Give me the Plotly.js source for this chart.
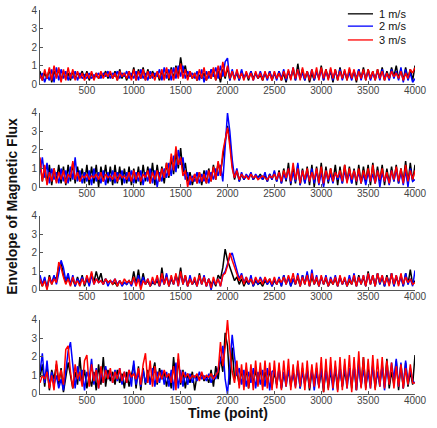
<!DOCTYPE html>
<html>
<head>
<meta charset="utf-8">
<script src="https://cdn.plot.ly/plotly-3.0.1.min.js"></script>
<style>html,body{margin:0;padding:0;background:#fff;}#chart{width:437px;height:428px;}</style>
</head>
<body>
<div id="chart"></div>
<script>
// Sample spacing of the signals (points)
const STEP = 25;
const seriesNames = ["1 m/s", "2 m/s", "3 m/s"];
const seriesColors = ["#000000", "#0000ff", "#ff0000"];
const xTickVals = [500, 1000, 1500, 2000, 2500, 3000, 3500, 4000];
const yTickVals = [0, 1, 2, 3, 4];

// Panel 1
const p1_1ms = [
0.7,0.2,0.6,0.3,0.8,0.1,0.7,0.4,0.8,0.2,0.7,0.3,0.6,0.2,0.7,0.3,0.6,0.4,0.7,0.3,
0.7,0.2,0.6,0.3,0.6,0.3,0.5,0.4,0.7,0.3,0.6,0.3,0.7,0.2,0.8,0.3,0.6,0.2,0.7,0.3,
0.9,0.2,0.8,0.3,0.9,0.2,0.8,0.3,0.7,0.4,0.6,0.2,0.7,0.3,0.8,0.2,0.9,0.3,1.0,0.4,
1.45,0.6,1.0,0.3,0.7,0.3,0.6,0.2,0.5,0.3,0.6,0.2,0.7,0.3,0.8,0.2,0.7,0.1,0.8,0.3,
0.9,0.2,0.7,0.3,0.6,0.2,0.7,0.3,0.6,0.2,0.7,0.3,0.6,0.3,0.5,0.2,0.6,0.3,0.7,0.2,
0.6,0.3,0.7,0.2,0.6,0.1,0.7,0.3,0.8,0.2,1.1,0.3,0.8,0.2,0.7,0.1,0.6,0.2,0.7,0.3,
1.0,0.2,0.8,0.3,0.7,0.1,0.8,0.2,0.9,0.3,0.7,0.2,0.8,0.3,0.7,0.1,0.8,0.3,0.9,0.2,
0.8,0.3,0.7,0.2,0.8,0.3,0.9,0.2,0.7,0.3,0.9,0.4,1.0,0.3,0.8,0.2,0.9,0.3,0.8,0.2,
1.0];
const p1_2ms = [
0.3,0.6,0.1,0.5,0.2,0.8,0.1,0.9,0.2,0.8,0.3,0.7,0.2,0.6,0.3,0.7,0.2,0.6,0.3,0.5,
0.3,0.6,0.3,0.5,0.4,0.6,0.3,0.6,0.4,0.7,0.3,0.6,0.4,0.7,0.3,0.6,0.4,0.7,0.3,0.6,
0.3,0.7,0.2,0.8,0.3,0.6,0.2,0.7,0.3,0.6,0.4,0.8,0.2,0.9,0.3,0.8,0.2,0.9,0.3,1.0,
0.4,1.0,0.3,0.7,0.4,0.6,0.3,0.7,0.2,0.8,0.1,0.7,0.3,0.8,0.4,0.9,0.3,1.0,0.4,1.2,
1.4,0.2,0.8,0.3,0.7,0.2,0.8,0.3,0.6,0.3,0.7,0.2,0.6,0.3,0.7,0.3,0.6,0.2,0.7,0.3,
0.6,0.2,0.7,0.3,0.8,0.2,0.7,0.3,0.9,0.2,0.8,0.3,0.6,0.2,0.7,0.3,0.8,0.2,0.7,0.3,
0.8,0.2,0.7,0.3,0.8,0.2,0.7,0.3,0.8,0.2,0.7,0.3,0.6,0.2,0.7,0.3,0.8,0.2,0.7,0.3,
0.7,0.2,0.6,0.3,0.7,0.2,0.8,0.3,0.6,0.2,0.8,0.3,0.7,0.2,0.9,0.1,0.8,0.2,0.6,0.1,
0.3];
const p1_3ms = [
0.5,0.2,0.8,0.3,0.9,0.2,1.0,0.3,0.9,0.1,0.8,0.2,0.9,0.3,0.8,0.2,0.7,0.3,0.6,0.2,
0.6,0.3,0.7,0.2,0.6,0.3,0.7,0.3,0.6,0.4,0.7,0.3,0.6,0.2,0.7,0.4,0.6,0.3,0.7,0.2,
0.8,0.2,0.7,0.3,0.8,0.2,0.7,0.3,0.6,0.2,0.7,0.3,0.8,0.2,0.9,0.3,0.8,0.2,0.9,0.3,
1.1,0.3,0.8,0.2,0.7,0.3,0.6,0.2,0.8,0.3,0.9,0.2,0.7,0.3,0.9,0.2,1.0,0.3,1.2,0.4,
1.0,0.3,0.7,0.2,0.8,0.3,0.6,0.2,0.7,0.3,0.6,0.2,0.7,0.3,0.6,0.2,0.7,0.3,0.6,0.2,
0.7,0.3,0.6,0.2,0.7,0.3,0.8,0.2,0.9,0.3,0.8,0.2,0.9,0.3,0.7,0.2,0.8,0.3,0.9,0.2,
0.9,0.3,0.8,0.2,0.9,0.3,0.8,0.2,0.7,0.3,0.8,0.2,0.9,0.3,0.8,0.2,0.7,0.3,0.8,0.2,
0.8,0.3,0.7,0.2,0.8,0.3,0.7,0.2,0.6,0.3,0.7,0.4,0.6,0.3,0.7,0.2,0.6,0.3,0.8,0.6,
0.9];

// Panel 2
const p2_1ms = [
1.3,0.3,1.1,0.2,1.2,0.1,1.0,0.3,1.2,0.2,1.1,0.1,1.2,0.3,1.3,0.2,1.1,0.3,1.0,0.2,
1.2,0.1,1.1,0.2,1.2,0.0,1.1,0.3,1.2,0.2,1.1,0.1,1.2,0.2,1.1,0.1,1.0,0.2,1.1,0.1,
1.0,0.2,1.1,0.1,1.2,0.3,1.1,0.2,1.3,0.1,1.2,0.3,1.1,0.2,1.3,0.5,1.6,0.7,1.9,1.0,
2.1,0.8,1.3,0.3,0.8,0.1,0.7,0.2,0.8,0.1,0.9,0.2,1.0,0.3,1.2,0.4,1.3,0.8,1.6,2.4,
3.3,2.5,1.2,0.4,0.9,0.3,0.7,0.4,0.6,0.5,0.7,0.4,0.6,0.5,0.7,0.4,0.6,0.3,0.7,0.4,
0.8,0.3,0.9,0.2,1.0,0.3,1.3,0.1,1.1,0.2,1.2,0.1,1.0,0.2,1.1,0.1,1.2,0.0,1.1,0.2,
1.3,0.1,1.1,0.2,1.0,0.3,1.2,0.1,1.1,0.2,1.2,0.3,1.1,0.2,1.0,0.1,1.2,0.2,1.1,0.3,
1.2,0.1,1.3,0.2,1.1,0.3,1.2,0.1,1.0,0.2,1.1,0.3,1.2,0.2,1.0,0.3,1.4,0.2,1.3,0.3,
1.2];
const p2_2ms = [
0.8,1.6,0.5,1.3,0.2,1.0,0.4,0.8,0.2,1.0,0.3,0.9,0.2,1.1,0.4,1.6,0.3,0.9,0.2,0.8,
0.3,0.9,0.1,1.0,0.3,0.8,0.2,0.9,0.1,0.8,0.3,0.9,0.2,0.8,0.4,0.9,0.2,0.8,0.3,0.9,
0.2,0.8,0.3,0.9,0.1,0.8,0.3,1.0,0.2,0.9,0.0,0.8,0.3,1.0,0.5,1.3,0.6,1.7,0.8,2.0,
1.2,1.6,0.4,0.8,0.1,0.6,0.3,0.8,0.2,0.7,0.3,0.9,0.2,0.8,0.4,1.0,0.6,1.2,0.3,2.0,
4.0,3.0,1.5,0.5,1.0,0.3,0.8,0.4,0.7,0.5,0.8,0.4,0.7,0.5,0.6,0.4,0.8,0.3,0.7,0.4,
0.9,0.3,0.8,0.2,0.7,0.4,1.0,0.2,0.8,0.3,1.3,0.1,0.9,0.2,0.8,0.3,1.0,0.2,0.9,0.1,
0.8,0.0,0.9,0.3,0.7,0.2,0.8,0.4,0.7,0.2,0.9,0.3,0.8,0.2,0.9,0.3,0.8,0.2,0.7,0.1,
0.8,0.3,0.7,0.2,0.9,0.0,0.8,0.3,0.7,0.1,0.9,0.3,1.0,0.2,0.8,0.1,0.9,0.0,1.0,0.3,
0.4];
const p2_3ms = [
1.6,0.3,1.2,0.1,0.8,0.3,1.0,0.2,0.8,0.4,0.9,0.2,0.7,0.5,1.4,0.4,0.8,0.3,0.6,0.5,
0.7,0.4,0.6,0.5,0.7,0.4,0.8,0.3,0.7,0.5,0.6,0.4,0.8,0.3,0.7,0.5,0.6,0.4,0.8,0.3,
0.9,0.4,0.8,0.3,0.7,0.5,0.9,0.2,0.8,0.4,0.9,0.3,1.0,0.5,1.3,0.6,1.8,0.9,2.2,1.2,
1.6,0.6,0.9,0.0,0.6,0.3,0.7,0.2,0.8,0.3,0.7,0.2,0.9,0.3,1.1,0.4,1.4,0.6,1.9,2.6,
3.2,2.2,1.0,0.5,0.9,0.4,0.7,0.5,0.6,0.4,0.7,0.5,0.6,0.4,0.5,0.6,0.5,0.4,0.6,0.5,
0.7,0.4,0.8,0.3,0.9,0.5,1.0,0.3,1.3,0.4,1.0,0.2,0.9,0.4,1.0,0.3,0.8,0.4,1.0,0.2,
1.1,0.2,0.9,0.4,1.0,0.3,0.8,0.5,0.9,0.3,1.2,0.2,1.0,0.4,0.9,0.3,1.0,0.2,0.9,0.4,
1.0,0.3,1.2,0.2,0.9,0.4,1.0,0.3,0.8,0.2,0.9,0.4,1.1,0.3,1.0,0.2,1.2,0.3,0.9,0.4,
0.9];

// Panel 3
const p3_1ms = [
0.5,0.2,0.6,0.1,0.8,0.3,0.7,0.6,1.3,1.5,0.8,0.4,0.7,0.3,0.6,0.2,0.7,0.3,0.8,0.2,
0.6,0.3,0.9,0.4,1.0,0.5,0.9,0.3,0.6,0.4,0.5,0.3,0.4,0.2,0.5,0.3,0.4,0.3,0.5,0.3,
1.0,0.3,1.1,0.2,0.9,0.3,0.5,0.2,0.4,0.3,0.5,0.2,1.2,0.3,0.8,0.2,0.6,0.3,0.8,0.4,
1.2,0.3,0.8,0.2,0.6,0.3,0.5,0.2,0.9,0.3,0.7,0.2,0.6,0.3,0.5,0.2,0.8,0.6,1.2,2.2,
1.6,1.2,0.9,0.5,0.7,0.3,0.6,0.2,0.5,0.3,0.6,0.2,0.5,0.3,0.4,0.2,0.5,0.3,0.6,0.2,
0.5,0.3,0.6,0.2,0.8,0.3,0.7,0.2,0.6,0.3,0.7,0.2,0.8,0.3,0.9,0.2,0.7,0.3,0.6,0.2,
0.7,0.3,0.6,0.2,0.5,0.3,0.6,0.2,0.7,0.3,0.6,0.2,0.5,0.3,0.7,0.2,0.8,0.3,0.7,0.2,
1.0,0.3,0.8,0.2,0.9,0.3,0.7,0.2,0.8,0.3,0.9,0.2,0.7,0.3,0.8,0.2,0.9,0.3,1.1,0.3,
0.5];
const p3_2ms = [
0.8,0.3,0.7,0.1,0.6,0.4,0.8,0.3,0.9,1.6,1.2,0.5,0.9,0.3,0.8,0.2,0.6,0.4,0.7,0.3,
0.7,0.2,0.8,0.3,0.6,0.4,0.5,0.3,0.6,0.2,0.5,0.4,0.6,0.3,0.5,0.2,0.4,0.3,0.5,0.2,
0.6,0.3,0.8,0.2,0.7,0.3,0.6,0.2,0.5,0.3,0.7,0.2,0.6,0.3,0.9,0.2,0.7,0.3,0.8,0.2,
0.9,0.3,0.7,0.2,0.8,0.3,0.6,0.2,0.7,0.3,0.8,0.2,0.6,0.0,0.5,0.3,0.6,0.2,0.8,1.0,
1.4,1.8,2.0,1.5,1.0,0.6,0.9,0.4,0.7,0.3,0.8,0.2,0.6,0.3,0.7,0.4,0.6,0.3,0.5,0.2,
0.6,0.3,0.7,0.2,0.8,0.3,0.7,0.2,0.6,0.3,0.9,0.2,0.8,0.3,1.0,0.2,1.1,0.3,0.8,0.2,
0.7,0.3,0.8,0.2,0.7,0.3,0.8,0.2,0.7,0.3,0.6,0.2,0.8,0.3,0.9,0.2,0.7,0.3,0.8,0.2,
0.9,0.3,0.8,0.2,0.9,0.3,0.8,0.2,0.7,0.3,0.9,0.2,0.8,0.3,0.7,0.2,0.9,0.3,0.6,0.2,
1.05];
const p3_3ms = [
0.6,0.2,0.5,0.0,0.7,0.3,0.6,0.4,1.5,1.2,0.7,0.3,0.6,0.2,0.7,0.3,0.5,0.2,0.6,0.3,
0.8,0.4,1.0,0.3,0.6,0.4,0.5,0.3,0.6,0.4,0.5,0.3,0.6,0.2,0.5,0.3,0.6,0.4,0.5,0.3,
0.7,0.2,0.6,0.0,0.5,0.3,0.6,0.2,0.7,0.3,0.8,0.2,0.9,0.3,0.7,0.2,0.8,0.3,0.9,0.2,
1.0,0.3,0.8,0.2,0.6,0.3,0.7,0.2,0.8,0.3,0.7,0.2,0.6,0.1,0.7,0.3,0.6,0.2,0.8,0.9,
1.3,2.0,1.6,1.2,0.9,0.5,0.8,0.3,0.7,0.4,0.6,0.3,0.7,0.4,0.6,0.3,0.7,0.4,0.6,0.3,
0.7,0.3,0.6,0.4,0.7,0.3,0.8,0.4,0.9,0.3,0.8,0.2,0.7,0.3,0.8,0.2,0.9,0.3,0.7,0.2,
0.8,0.3,0.7,0.2,0.6,0.3,0.7,0.2,0.8,0.3,0.7,0.2,0.6,0.3,0.8,0.2,0.7,0.3,0.8,0.2,
0.9,0.3,0.8,0.2,0.9,0.4,0.8,0.3,0.7,0.2,0.9,0.3,0.8,0.2,0.9,0.3,0.7,0.4,0.6,0.3,
0.4];

// Panel 4
const p4_1ms = [
0.9,1.6,0.4,1.5,0.2,1.3,0.8,1.6,0.5,1.4,0.1,0.9,1.7,1.0,0.3,1.2,0.5,2.0,0.6,1.3,
0.3,1.0,0.4,1.2,0.2,1.6,0.5,2.0,0.4,1.3,0.7,1.2,0.5,1.3,0.6,1.1,0.3,1.2,0.4,1.0,
1.6,0.3,1.5,0.2,1.4,0.5,1.3,0.6,1.2,1.7,0.5,1.4,0.8,1.2,0.4,1.1,0.3,2.0,0.6,1.9,
0.5,1.3,0.3,1.1,0.6,1.2,0.2,1.0,0.8,1.1,0.7,1.0,0.6,1.3,0.4,1.5,0.8,2.0,1.2,3.3,
2.6,0.5,2.5,0.8,1.2,0.5,1.3,0.4,1.4,0.3,1.2,0.6,1.3,0.5,1.4,0.4,1.2,0.6,1.3,0.4,
1.2,0.5,1.4,0.3,1.1,0.6,1.3,0.4,1.2,0.5,1.6,0.3,1.4,0.5,1.3,0.2,1.2,0.6,1.4,0.4,
1.3,0.1,1.4,0.3,1.2,0.5,1.3,0.2,1.5,0.4,1.2,0.6,1.4,0.3,1.6,0.2,1.8,0.4,2.0,0.3,
1.4,0.5,1.6,0.3,1.2,0.6,1.5,0.4,1.9,0.3,1.2,0.5,1.8,0.2,1.6,0.3,1.7,0.4,1.2,0.5,
2.1];
const p4_2ms = [
1.2,2.2,0.6,1.8,0.4,1.2,0.5,1.0,0.3,0.8,0.2,1.3,2.3,2.8,1.5,0.3,1.5,0.7,1.3,0.2,
1.2,0.8,1.9,0.5,1.4,0.3,1.2,0.6,1.5,0.8,1.2,0.6,1.3,0.7,1.4,0.5,1.2,0.6,1.3,0.4,
1.8,0.5,1.2,0.4,1.3,0.6,1.1,0.5,1.4,0.4,1.2,0.6,1.3,0.5,1.2,0.4,1.3,0.2,1.7,0.3,
1.3,0.4,1.2,0.5,1.1,0.6,1.0,0.7,1.2,0.8,1.0,0.7,1.1,0.6,1.0,0.8,1.4,1.8,2.6,0.8,
0.0,1.5,3.2,2.0,1.0,1.4,0.5,1.3,0.4,1.2,0.6,1.4,0.3,1.2,0.5,1.3,0.4,1.4,0.2,1.2,
1.3,0.5,1.4,0.3,1.2,0.4,1.3,0.6,1.1,0.4,1.4,0.3,1.2,0.5,1.3,0.4,1.4,0.2,1.2,0.4,
1.4,0.3,1.2,0.5,1.4,0.2,1.5,0.6,1.3,0.4,1.6,0.3,1.4,0.5,1.5,0.2,1.6,0.4,1.3,0.5,
1.2,0.3,1.5,0.5,1.2,0.4,1.6,0.2,1.4,0.6,1.7,0.8,1.9,0.4,1.7,0.3,1.8,0.5,1.4,0.7,
0.6];
const p4_3ms = [
0.6,1.0,0.8,1.2,0.3,1.0,0.2,1.8,0.7,1.3,0.5,2.4,2.6,1.2,0.3,1.6,0.8,1.2,0.4,1.8,
2.1,0.4,1.6,0.7,1.3,0.3,1.5,0.6,1.3,0.8,1.4,0.6,1.2,0.8,1.4,0.7,1.2,0.6,1.3,0.9,
1.1,0.8,1.4,0.5,1.6,2.2,0.6,1.8,0.4,1.5,0.6,1.2,0.8,1.3,0.9,1.1,0.6,1.5,0.2,2.2,
0.6,1.2,0.9,1.1,0.8,1.0,0.9,1.1,0.7,1.2,0.8,1.0,0.9,1.1,0.8,1.0,1.2,2.8,1.5,2.5,
4.0,2.4,1.2,0.6,1.8,0.3,1.6,0.2,1.7,0.3,1.6,0.2,1.8,0.4,1.7,0.2,1.8,0.3,1.7,0.2,
1.8,0.3,1.7,0.2,1.8,0.4,1.9,0.2,1.6,0.3,1.8,0.4,1.7,0.2,1.8,0.3,1.6,0.4,1.7,0.3,
2.0,0.1,1.9,0.2,2.0,0.3,1.8,0.1,2.0,0.2,1.9,0.3,2.1,0.1,2.0,0.2,2.3,0.3,2.0,0.2,
1.9,0.3,2.1,0.2,1.9,0.4,2.0,0.3,1.8,0.5,1.7,0.3,1.5,0.4,1.6,0.3,1.4,0.5,1.6,0.6,
0.6];

const panels = [
  [p1_1ms, p1_2ms, p1_3ms],
  [p2_1ms, p2_2ms, p2_3ms],
  [p3_1ms, p3_2ms, p3_3ms],
  [p4_1ms, p4_2ms, p4_3ms]
];

const domains = [[0.807, 1.0], [0.539, 0.732], [0.271, 0.464], [0.0, 0.193]];
const FONT = "Liberation Sans, Arial, sans-serif";

const traces = [];
panels.forEach((panel, pi) => {
  panel.forEach((vals, si) => {
    const sfx = pi === 0 ? "" : String(pi + 1);
    traces.push({
      type: "scatter", mode: "lines",
      x: vals.map((_, i) => i * STEP),
      y: vals,
      name: seriesNames[si],
      showlegend: false,
      line: {color: seriesColors[si], width: 1.5},
      xaxis: "x" + sfx, yaxis: "y" + sfx
    });
  });
});

// Compact legend (line sample + label) drawn in paper coordinates
const legendRowsY = [0.990, 0.958, 0.922];
const shapes = [];
const annotations = [
  {text: "<b>Envelope of Magnetic Flux</b>", xref: "paper", yref: "paper",
   x: -0.075, y: 0.49, textangle: -90, showarrow: false, xanchor: "center", yanchor: "middle",
   font: {family: FONT, size: 14, color: "#111"}},
  {text: "<b>Time (point)</b>", xref: "paper", yref: "paper",
   x: 0.5, y: -0.05, showarrow: false, xanchor: "center", yanchor: "middle",
   font: {family: FONT, size: 14, color: "#111"}}
];
seriesNames.forEach((nm, i) => {
  shapes.push({type: "line", xref: "paper", yref: "paper",
    x0: 0.821, x1: 0.888, y0: legendRowsY[i], y1: legendRowsY[i],
    line: {color: seriesColors[i], width: 1.3}});
  annotations.push({text: nm, xref: "paper", yref: "paper",
    x: 0.899, y: legendRowsY[i], xanchor: "left", yanchor: "middle", showarrow: false,
    font: {family: FONT, size: 11, color: "#111"}});
});

const tickFont = {family: FONT, size: 10, color: "#444"};
const layout = {
  width: 437, height: 428,
  margin: {l: 40, r: 22, t: 10, b: 34},
  paper_bgcolor: "#fff", plot_bgcolor: "#fff",
  showlegend: false,
  shapes: shapes,
  annotations: annotations
};

domains.forEach((dom, pi) => {
  const sfx = pi === 0 ? "" : String(pi + 1);
  layout["xaxis" + sfx] = {
    domain: [0, 1], anchor: "y" + sfx, range: [0, 4000],
    tickvals: xTickVals, ticks: "inside", ticklen: 3, tickcolor: "#555",
    showline: true, linecolor: "#555", linewidth: 1, mirror: false,
    showgrid: false, zeroline: false, tickfont: tickFont, ticklabelstandoff: -3
  };
  layout["yaxis" + sfx] = {
    domain: dom, anchor: "x" + sfx, range: [0, 4],
    tickvals: yTickVals, ticks: "inside", ticklen: 3, tickcolor: "#555",
    showline: true, linecolor: "#555", linewidth: 1, mirror: false,
    showgrid: false, zeroline: false, tickfont: tickFont
  };
});

Plotly.newPlot("chart", traces, layout, {displayModeBar: false, staticPlot: true});
</script>
</body>
</html>
